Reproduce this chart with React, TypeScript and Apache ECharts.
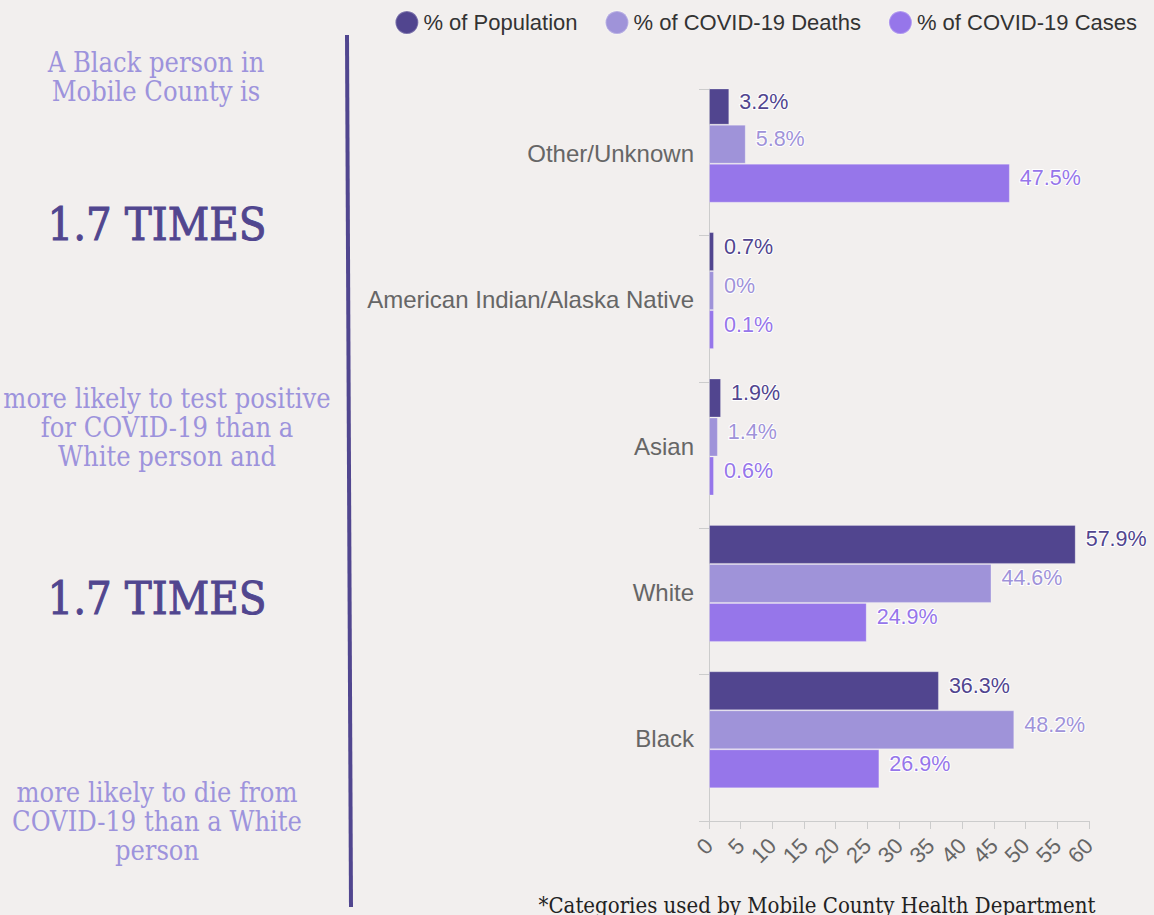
import React, { useEffect, useRef } from "react";
import * as echarts from "echarts";

// ---- data ----
const categories = ["Other/Unknown", "American Indian/Alaska Native", "Asian", "White", "Black"];
const seriesNames = ["% of Population", "% of COVID-19 Deaths", "% of COVID-19 Cases"];
const population = [3.2, 0.7, 1.9, 57.9, 36.3];
const deaths = [5.8, 0, 1.4, 44.6, 48.2];
const cases = [47.5, 0.1, 0.6, 24.9, 26.9];
const xMin = 0;
const xMax = 60;
const xStep = 5;

const introLines = ["A Black person in", "Mobile County is"];
const bigStat1 = "1.7 TIMES";
const middleLines = ["more likely to test positive", "for COVID-19 than a", "White person and"];
const bigStat2 = "1.7 TIMES";
const closingLines = ["more likely to die from", "COVID-19 than a White", "person"];
const footnote = "*Categories used by Mobile County Health Department";

const colors = ["#51458f", "#9f93d9", "#9676ea"];
const SANS = "'Liberation Sans', Arial, Helvetica, sans-serif";
const SERIF = "'DejaVu Serif Condensed', 'DejaVu Serif', serif";

export default function App() {
  const ref = useRef<HTMLDivElement>(null);

  useEffect(() => {
    if (!ref.current) return;
    const chart = echarts.init(ref.current, undefined, { renderer: "svg" });

    const mkSeries = (name: string, data: number[], color: string) => ({
      name,
      type: "bar",
      data,
      barWidth: 39,
      barGap: "0%",
      barMinHeight: 5,
      itemStyle: { color, borderColor: "rgba(255,255,255,0.25)", borderWidth: 1 },
      label: {
        show: true,
        position: "right",
        distance: 10,
        offset: [0, -5],
        formatter: (p: any) => `${p.value}%`,
        color,
        fontFamily: SANS,
        fontSize: 21.5,
        textBorderColor: "#ffffff",
        textBorderWidth: 2,
      },
    });

    const smallText = {
      fontFamily: SERIF,
      fontSize: 27,
      lineHeight: 29,
      fill: "#9d93dc",
      textAlign: "center",
      textVerticalAlign: "middle",
    };
    const bigText = {
      fontFamily: SERIF,
      fontSize: 45,
      fill: "#51468f",
      stroke: "#51468f",
      lineWidth: 0.9,
      textAlign: "center",
      textVerticalAlign: "middle",
    };

    chart.setOption({
      animation: false,
      backgroundColor: "#f2efee",
      legend: {
        data: seriesNames,
        right: 12,
        top: 5,
        icon: "circle",
        itemWidth: 23,
        itemHeight: 23,
        itemGap: 27,
        textStyle: { fontFamily: SANS, fontSize: 22, color: "#333333" },
      },
      grid: { left: 709, right: 65, top: 89, bottom: 94 },
      xAxis: {
        type: "value",
        min: xMin,
        max: xMax,
        interval: xStep,
        splitLine: { show: false },
        axisLine: { show: true, lineStyle: { color: "#cccccc", width: 1 } },
        axisTick: { show: true, length: 8, lineStyle: { color: "#cccccc" } },
        axisLabel: { rotate: 45, fontSize: 22, color: "#666666", margin: 21, fontFamily: SANS },
      },
      yAxis: {
        type: "category",
        inverse: true,
        data: categories,
        axisLine: { show: true, lineStyle: { color: "#cccccc", width: 1 } },
        axisTick: { show: true, length: 10, lineStyle: { color: "#cccccc" } },
        axisLabel: {
          fontSize: 24,
          color: "#666666",
          margin: 15,
          fontFamily: SANS,
          verticalAlign: "bottom",
          lineHeight: 18,
        },
      },
      series: [
        mkSeries(seriesNames[0], population, colors[0]),
        mkSeries(seriesNames[1], deaths, colors[1]),
        mkSeries(seriesNames[2], cases, colors[2]),
        {
          name: "spacer",
          type: "bar",
          data: categories.map(() => null),
          barWidth: 36,
          barGap: "0%",
          silent: true,
          label: { show: false },
        },
      ],
      graphic: [
        {
          type: "line",
          shape: { x1: 347, y1: 35, x2: 351, y2: 907 },
          style: { stroke: "#51468f", lineWidth: 4 },
        },
        { type: "text", x: 156, y: 76.5, style: { ...smallText, text: introLines.join("\n") } },
        { type: "text", x: 157, y: 224, style: { ...bigText, text: bigStat1 } },
        { type: "text", x: 167, y: 427, style: { ...smallText, text: middleLines.join("\n") } },
        { type: "text", x: 157, y: 598, style: { ...bigText, text: bigStat2 } },
        { type: "text", x: 157, y: 821, style: { ...smallText, text: closingLines.join("\n") } },
        {
          type: "text",
          x: 817,
          y: 905,
          style: {
            text: footnote,
            fontFamily: SERIF,
            fontSize: 22,
            fill: "#222222",
            textAlign: "center",
            textVerticalAlign: "middle",
          },
        },
      ],
    });

    return () => chart.dispose();
  }, []);

  return (
    <div
      ref={ref}
      style={{ position: "fixed", left: 0, top: 0, width: 1154, height: 915, background: "#f2efee" }}
    />
  );
}
